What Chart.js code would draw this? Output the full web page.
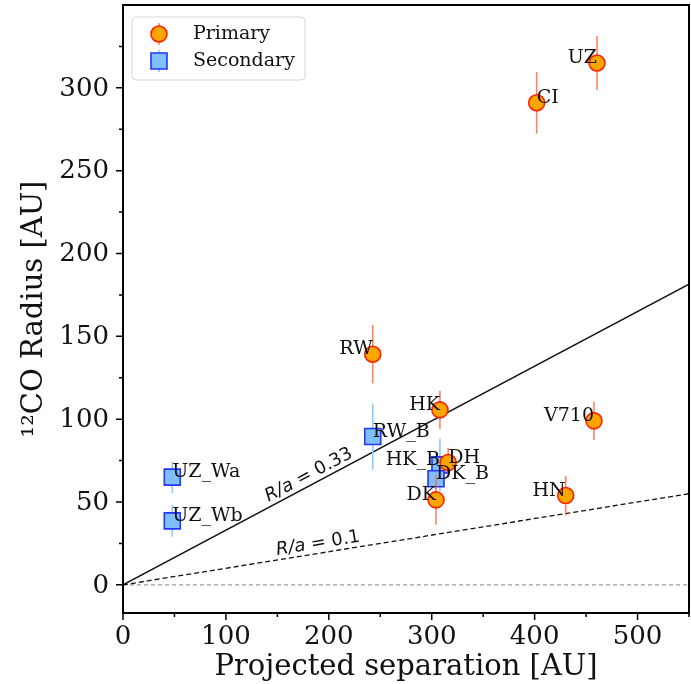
<!DOCTYPE html>
<html>
<head>
<meta charset="utf-8">
<script src="https://cdn.jsdelivr.net/npm/chart.js@4.4.0/dist/chart.umd.min.js"></script>
<style>
  html, body { margin: 0; padding: 0; background: #fff; }
  #wrap { width: 691px; height: 684px; }
</style>
</head>
<body>
<div id="wrap"><canvas id="myChart" width="691" height="684"></canvas></div>
<script>
// --- DATI ---
const primaryNames = ['UZ', 'CI', 'RW', 'HK', 'V710', 'DH', 'DK', 'HN'];
const primarySep   = [460.6, 402.0, 242.7, 308.0, 457.7, 316.0, 304.2, 430.2];
const primaryRad   = [315.0, 291.0, 139.2, 105.6, 99.0, 73.8, 51.3, 53.9];
const primaryErr   = [16.3, 18.6, 17.6, 11.5, 11.5, 9.0, 15.0, 12.0];
const primaryAlign = ['right', 'left', 'right', 'right', 'right', 'left', 'right', 'right'];

const secondaryNames = ['UZ_Wa', 'UZ_Wb', 'RW_B', 'HK_B', 'DK_B'];
const secondarySep   = [47.9, 47.9, 242.7, 308.0, 304.2];
const secondaryRad   = [65.0, 38.6, 89.5, 72.4, 64.0];
const secondaryErr   = [9.6, 9.6, 20.0, 16.0, 7.0];
const secondaryAlign = ['left', 'left', 'left', 'right', 'left'];

const ratios      = [0.33, 0.1];
const ratioLabels = ['R/a = 0.33', 'R/a = 0.1'];
const ratioLabelX = [185, 191];

const xTicks = [0, 100, 200, 300, 400, 500];
const yTicks = [0, 50, 100, 150, 200, 250, 300];
const xMin = 0, xMax = 550;
const yMin = -17, yMax = 350;

const SERIF = '"DejaVu Serif", "Liberation Serif", serif';
const SANS = '"DejaVu Sans", sans-serif';

const primaryStyle = { fill: '#ffa500', edge: '#ff2000', err: 'rgba(255, 100, 60, 0.8)' };
const secondaryStyle = { fill: '#7fbfff', edge: '#2236ff', err: '#8ccaf7' };

function toPoints(xs, ys) {
    return xs.map((x, i) => ({ x, y: ys[i] }));
}

// disegna marker (cerchio o quadrato)
function drawMarker(ctx, kind, x, y, style) {
    ctx.save();
    ctx.fillStyle = style.fill;
    ctx.strokeStyle = style.edge;
    ctx.lineWidth = 1.6;
    ctx.beginPath();
    if (kind === 'circle') {
        ctx.arc(x, y, 8, 0, Math.PI * 2);
    } else {
        ctx.rect(x - 8, y - 8, 16, 16);
    }
    ctx.fill();
    ctx.stroke();
    ctx.restore();
}

const errBars = [primaryErr, secondaryErr];
const errColors = [primaryStyle.err, secondaryStyle.err];
const pointNames = [primaryNames, secondaryNames];
const pointAligns = [primaryAlign, secondaryAlign];

const extras = {
    id: 'extras',
    beforeDatasetDraw(chart, args) {
        const i = args.index;
        if (i > 1) return;
        const { ctx } = chart;
        const xs = chart.scales.x, ys = chart.scales.y;
        const data = chart.data.datasets[i].data;
        ctx.save();
        ctx.strokeStyle = errColors[i];
        ctx.lineWidth = 1.6;
        data.forEach((p, k) => {
            const e = errBars[i][k];
            const px = xs.getPixelForValue(p.x);
            ctx.beginPath();
            ctx.moveTo(px, ys.getPixelForValue(p.y - e));
            ctx.lineTo(px, ys.getPixelForValue(p.y + e));
            ctx.stroke();
        });
        ctx.restore();
    },
    afterDatasetsDraw(chart) {
        const { ctx } = chart;
        const xs = chart.scales.x, ys = chart.scales.y;

        // etichette dei punti
        ctx.save();
        ctx.font = '19px ' + SERIF;
        ctx.fillStyle = '#111';
        ctx.textBaseline = 'alphabetic';
        [0, 1].forEach(i => {
            chart.data.datasets[i].data.forEach((p, k) => {
                ctx.textAlign = pointAligns[i][k];
                ctx.fillText(pointNames[i][k], xs.getPixelForValue(p.x), ys.getPixelForValue(p.y));
            });
        });
        ctx.restore();

        // testo R/a lungo le rette
        ratios.forEach((r, i) => {
            const x0 = xs.getPixelForValue(0), y0 = ys.getPixelForValue(0);
            const x1 = xs.getPixelForValue(xMax), y1 = ys.getPixelForValue(r * xMax);
            const ang = Math.atan2(y1 - y0, x1 - x0);
            const cx = xs.getPixelForValue(ratioLabelX[i]);
            const cy = ys.getPixelForValue(r * ratioLabelX[i]);
            const parts = ratioLabels[i].split(' = ');
            ctx.save();
            ctx.translate(cx, cy);
            ctx.rotate(ang);
            ctx.translate(0, -5);
            ctx.fillStyle = '#111';
            ctx.textBaseline = 'alphabetic';
            ctx.font = 'italic 18px ' + SANS;
            const w1 = ctx.measureText(parts[0]).width;
            ctx.font = '18px ' + SANS;
            const rest = ' = ' + parts[1];
            const w2 = ctx.measureText(rest).width;
            const sx = -(w1 + w2) / 2;
            ctx.textAlign = 'left';
            ctx.font = 'italic 18px ' + SANS;
            ctx.fillText(parts[0], sx, 0);
            ctx.font = '18px ' + SANS;
            ctx.fillText(rest, sx + w1, 0);
            ctx.restore();
        });
    },
    afterDraw(chart) {
        const { ctx, chartArea: a } = chart;
        const xs = chart.scales.x, ys = chart.scales.y;
        ctx.save();

        // cornice
        ctx.strokeStyle = '#000';
        ctx.lineWidth = 2;
        ctx.strokeRect(a.left, a.top, a.right - a.left, a.bottom - a.top);

        // tacche principali e secondarie
        ctx.lineWidth = 1.5;
        ctx.beginPath();
        xTicks.forEach(v => {
            const px = xs.getPixelForValue(v);
            ctx.moveTo(px, a.bottom); ctx.lineTo(px, a.bottom + 7);
            const m = xs.getPixelForValue(v + 50);
            if (v + 50 <= xMax) { ctx.moveTo(m, a.bottom); ctx.lineTo(m, a.bottom + 4); }
        });
        yTicks.forEach(v => {
            const py = ys.getPixelForValue(v);
            ctx.moveTo(a.left, py); ctx.lineTo(a.left - 7, py);
            const m = ys.getPixelForValue(v + 25);
            if (v + 25 <= yMax) { ctx.moveTo(a.left, m); ctx.lineTo(a.left - 4, m); }
        });
        ctx.stroke();

        // etichette tacche
        ctx.fillStyle = '#111';
        ctx.font = '26px ' + SERIF;
        ctx.textAlign = 'center';
        ctx.textBaseline = 'middle';
        xTicks.forEach(v => ctx.fillText(String(v), xs.getPixelForValue(v), a.bottom + 24));
        ctx.textAlign = 'right';
        yTicks.forEach(v => ctx.fillText(String(v), a.left - 14, ys.getPixelForValue(v) + 1));

        // titoli assi
        ctx.font = '29px ' + SERIF;
        ctx.textAlign = 'center';
        ctx.fillText('Projected separation [AU]', (a.left + a.right) / 2, 667);
        ctx.translate(34, (a.top + a.bottom) / 2);
        ctx.rotate(-Math.PI / 2);
        ctx.fillText('\u00B9\u00B2CO Radius [AU]', 0, 0);
        ctx.restore();

        // legenda
        ctx.save();
        const lx = 132, ly = 17, lw = 173, lh = 63;
        ctx.fillStyle = 'rgba(255,255,255,0.85)';
        ctx.strokeStyle = '#d6d6d6';
        ctx.lineWidth = 1;
        ctx.beginPath();
        ctx.roundRect(lx, ly, lw, lh, 4);
        ctx.fill();
        ctx.stroke();
        const rows = [
            { label: chart.data.datasets[0].label, kind: 'circle', style: primaryStyle, y: 34 },
            { label: chart.data.datasets[1].label, kind: 'rect', style: secondaryStyle, y: 61 }
        ];
        rows.forEach(r => {
            ctx.strokeStyle = r.style.err;
            ctx.lineWidth = 1.6;
            ctx.beginPath();
            ctx.moveTo(159, r.y - 11); ctx.lineTo(159, r.y + 11);
            ctx.stroke();
            drawMarker(ctx, r.kind, 159, r.y, r.style);
            ctx.fillStyle = '#111';
            ctx.font = '19px ' + SERIF;
            ctx.textAlign = 'left';
            ctx.textBaseline = 'middle';
            ctx.fillText(r.label, 193, r.y);
        });
        ctx.restore();
    }
};

const lineDatasets = ratios.map((r, i) => ({
    type: 'line',
    label: ratioLabels[i],
    data: [{ x: xMin, y: 0 }, { x: xMax, y: r * xMax }],
    borderColor: '#111',
    borderWidth: 1.3,
    borderDash: i === 0 ? [] : [5, 3],
    pointRadius: 0,
    fill: false
}));

const zeroLine = {
    type: 'line',
    label: 'zero',
    data: [{ x: xMin, y: 0 }, { x: xMax, y: 0 }],
    borderColor: '#999',
    borderWidth: 1.3,
    borderDash: [4, 3],
    pointRadius: 0,
    fill: false
};

const ctx = document.getElementById('myChart').getContext('2d');
new Chart(ctx, {
    type: 'scatter',
    data: {
        datasets: [
            {
                label: 'Primary',
                data: toPoints(primarySep, primaryRad),
                pointStyle: 'circle',
                pointRadius: 8,
                pointBackgroundColor: primaryStyle.fill,
                pointBorderColor: primaryStyle.edge,
                pointBorderWidth: 1.6
            },
            {
                label: 'Secondary',
                data: toPoints(secondarySep, secondaryRad),
                pointStyle: 'rect',
                pointRadius: 11.3,
                pointBackgroundColor: secondaryStyle.fill,
                pointBorderColor: secondaryStyle.edge,
                pointBorderWidth: 1.6
            },
            ...lineDatasets,
            zeroLine
        ]
    },
    options: {
        responsive: false,
        animation: false,
        layout: { autoPadding: false, padding: { top: 5, right: 2, left: 0, bottom: 0 } },
        plugins: { legend: { display: false }, tooltip: { enabled: false } },
        scales: {
            x: {
                type: 'linear',
                min: xMin, max: xMax,
                grid: { display: false },
                border: { display: false },
                ticks: { display: false },
                afterFit: s => { s.height = 71; }
            },
            y: {
                type: 'linear',
                min: yMin, max: yMax,
                grid: { display: false },
                border: { display: false },
                ticks: { display: false },
                afterFit: s => { s.width = 123; }
            }
        }
    },
    plugins: [extras]
});
</script>
</body>
</html>
